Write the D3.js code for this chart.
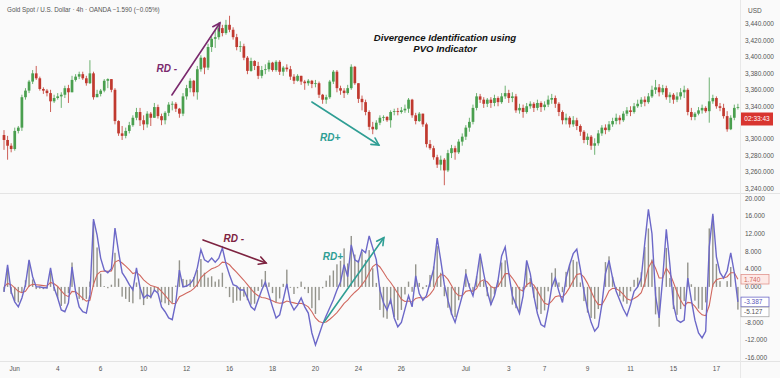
<!DOCTYPE html>
<meta charset="utf-8">
<style>
  body { margin: 0; background: #fafafa; }
  svg text { font-family: "Liberation Sans", Arial, sans-serif; }
</style>
<body>
<script src="https://cdnjs.cloudflare.com/ajax/libs/d3/7.8.5/d3.min.js"></script>
<script>

// XAU/USD 4h candles (Jun 2 - Jul 17), open = previous close
var firstOpen = 3305;
var closes = [
  3299,3292,3288,3310,3314,3351,3359,3370,3380,3374,
  3361,3359,3356,3346,3350,3352,3354,3362,3357,3372,
  3376,3379,3374,3368,3380,3351,3355,3359,3371,3373,
  3360,3322,3307,3304,3310,3317,3326,3333,3323,3318,
  3331,3326,3339,3328,3323,3332,3342,3343,3337,3331,
  3352,3362,3371,3357,3385,3399,3387,3412,3422,3424,
  3435,3429,3439,3433,3424,3412,3413,3399,3383,3395,
  3389,3377,3384,3385,3393,3384,3394,3382,3387,3385,
  3376,3371,3377,3370,3368,3371,3367,3368,3354,3348,
  3351,3370,3382,3362,3359,3356,3362,3388,3368,3349,
  3345,3333,3315,3312,3320,3326,3327,3323,3333,3334,
  3333,3335,3337,3348,3329,3322,3331,3318,3294,3289,
  3278,3269,3275,3262,3283,3289,3284,3297,3303,3314,
  3321,3338,3352,3348,3343,3348,3344,3350,3345,3352,
  3356,3350,3352,3335,3338,3333,3340,3343,3338,3344,
  3339,3342,3348,3350,3343,3333,3323,3326,3318,3323,
  3316,3309,3299,3303,3292,3295,3307,3314,3311,3318,
  3322,3326,3323,3331,3335,3333,3340,3343,3348,3345,
  3352,3360,3363,3357,3362,3351,3354,3348,3352,3357,
  3360,3333,3327,3331,3335,3338,3334,3346,3350,3340,
  3338,3328,3312,3326,3338,3339];
var highs = [
  3311,3304,3295,3314,3316,3354,3362,3372,3384,3389,
  3376,3363,3361,3360,3354,3356,3357,3365,3366,3377,
  3379,3382,3382,3377,3396,3382,3360,3361,3373,3374,
  3373,3362,3323,3316,3314,3321,3329,3338,3338,3329,
  3334,3333,3344,3342,3331,3334,3345,3346,3345,3338,
  3356,3366,3374,3372,3389,3402,3400,3416,3425,3433,
  3442,3439,3445,3450,3436,3428,3419,3416,3401,3399,
  3396,3394,3389,3391,3396,3394,3396,3396,3389,3391,
  3389,3379,3379,3376,3372,3373,3372,3372,3370,3355,
  3354,3372,3384,3384,3365,3362,3366,3391,3389,3362,
  3353,3348,3335,3321,3323,3329,3329,3328,3335,3337,
  3338,3339,3342,3350,3349,3332,3333,3326,3320,3299,
  3292,3281,3280,3277,3287,3293,3292,3300,3307,3317,
  3326,3342,3356,3355,3351,3350,3351,3354,3352,3356,
  3365,3360,3357,3355,3343,3342,3344,3346,3345,3348,
  3346,3346,3353,3355,3353,3345,3335,3331,3328,3328,
  3326,3318,3311,3307,3305,3301,3311,3317,3318,3322,
  3326,3331,3329,3334,3339,3340,3344,3348,3351,3352,
  3356,3365,3372,3367,3366,3365,3357,3356,3357,3362,
  3365,3362,3338,3333,3339,3342,3340,3375,3354,3352,
  3344,3343,3334,3329,3342,3343];
var lows = [
  3287,3275,3284,3286,3307,3310,3348,3356,3367,3372,
  3359,3355,3352,3333,3344,3348,3338,3350,3344,3357,
  3370,3373,3372,3365,3367,3348,3351,3352,3357,3362,
  3357,3318,3304,3299,3301,3307,3315,3323,3316,3311,
  3314,3316,3326,3325,3317,3318,3328,3335,3333,3326,
  3328,3348,3357,3352,3348,3382,3379,3384,3406,3411,
  3421,3425,3427,3430,3421,3408,3406,3396,3379,3382,
  3384,3373,3374,3379,3382,3382,3382,3378,3377,3382,
  3372,3367,3370,3366,3360,3365,3362,3363,3350,3343,
  3343,3349,3367,3357,3354,3350,3354,3360,3366,3344,
  3335,3329,3311,3306,3311,3317,3322,3321,3314,3329,
  3329,3331,3332,3332,3326,3318,3321,3315,3290,3287,
  3275,3265,3262,3244,3260,3277,3275,3282,3292,3299,
  3309,3318,3335,3344,3338,3339,3338,3340,3340,3343,
  3349,3344,3345,3332,3331,3326,3331,3337,3333,3335,
  3333,3335,3339,3343,3338,3328,3318,3318,3314,3315,
  3311,3304,3295,3293,3287,3281,3292,3304,3306,3309,
  3315,3318,3318,3321,3328,3328,3331,3338,3339,3340,
  3343,3350,3355,3352,3354,3348,3344,3343,3345,3348,
  3350,3329,3323,3323,3329,3331,3332,3320,3343,3337,
  3334,3325,3309,3311,3323,3336];

// PVO (percentage volume oscillator) and its signal line
var pvo = [
  -1.1,5.0,-1.1,-3.4,-4.5,-2.5,0.5,6.1,2.3,0.0,
  0.0,-0.2,-0.2,4.3,-0.2,-2.5,-5.2,-5.6,-3.6,4.5,
  -1.1,-4.5,-5.6,-5.9,-1.8,15.3,11.7,6.5,3.8,3.2,
  4.1,13.3,7.9,3.2,2.0,0.5,-0.7,4.3,-0.2,-2.5,
  -1.8,-2.3,-0.7,-1.4,-4.5,-5.6,-7.0,-7.4,-3.4,3.8,
  0.0,0.2,0.7,1.8,4.3,8.4,6.1,5.6,6.5,5.6,
  6.5,8.8,5.2,2.7,0.5,0.2,-0.7,-0.7,-2.5,-4.5,
  -5.2,-2.9,-0.7,1.1,-1.8,-4.5,-7.0,-6.3,-2.9,0.7,
  -3.6,-5.2,-4.1,-2.5,-4.5,-5.9,-10.4,-13.1,-10.8,-8.4,
  -6.5,-4.7,-2.9,-0.7,1.1,5.0,2.3,9.5,6.1,5.6,
  8.4,7.7,11.5,8.8,6.1,-0.7,-3.6,-5.2,-2.9,-7.0,
  -9.0,-8.0,-5.0,-2.0,-4.5,2.5,-1.5,-3.0,-2.0,1.0,
  4.0,11.0,6.0,0.5,-3.0,-6.0,-8.0,-5.0,-2.0,3.0,
  0.0,-2.0,2.0,7.5,3.0,-1.0,-4.0,-2.0,1.5,7.0,
  9.0,3.0,-2.0,-4.0,-6.0,-2.0,6.0,3.0,-2.0,-6.0,
  -8.5,-9.0,-5.0,0.0,2.0,-1.0,-3.5,2.0,5.0,7.5,
  8.5,4.0,-1.0,-5.0,-8.0,-10.0,-9.0,-4.0,3.0,6.0,
  2.0,-1.0,-3.0,-5.0,-6.5,-4.0,-1.0,0.0,2.0,10.0,
  17.5,12.0,-2.0,-7.0,2.0,13.0,5.0,-4.0,-7.5,-8.0,
  -7.5,2.0,-3.0,-7.5,-10.4,-11.5,-10.0,9.0,16.5,6.8,
  3.2,2.0,3.6,7.7,3.2,-3.387];
var signal = [
  0.0,0.8,0.5,-0.2,-1.0,-1.3,-1.0,0.2,0.6,0.5,
  0.4,0.3,0.2,1.0,0.7,0.1,-0.9,-1.8,-2.2,-1.0,
  -1.1,-1.8,-2.6,-3.2,-3.0,0.6,2.8,3.5,3.6,3.5,
  3.6,5.6,6.0,5.4,4.7,3.9,3.0,3.3,2.6,1.6,
  0.9,0.3,0.1,-0.2,-1.0,-1.9,-2.9,-3.8,-3.7,-2.2,
  -1.8,-1.4,-1.0,-0.4,0.5,2.1,2.9,3.5,4.1,4.4,
  4.8,5.6,5.5,5.0,4.1,3.3,2.4,1.5,0.5,-0.5,
  -1.4,-2.0,-2.4,-2.5,-2.8,-3.1,-3.5,-3.7,-3.6,-3.2,
  -3.4,-3.6,-3.8,-3.7,-4.0,-4.5,-5.6,-7.0,-7.8,-8.1,
  -7.9,-7.3,-6.6,-5.8,-4.8,-3.7,-3.0,-2.0,-1.2,-0.5,
  0.5,1.6,3.2,4.6,5.2,4.5,3.3,2.0,1.0,-0.2,
  -1.5,-2.8,-3.3,-3.2,-3.4,-2.6,-2.4,-2.5,-2.4,-1.7,
  -0.6,1.8,2.8,2.6,1.7,0.3,-1.2,-2.0,-2.0,-1.0,
  -0.8,-1.0,-0.4,1.2,1.6,1.1,0.1,-0.3,0.1,1.5,
  3.0,3.0,2.0,0.8,-0.6,-0.9,0.5,1.0,0.4,-0.9,
  -2.4,-3.7,-4.0,-3.2,-2.2,-2.0,-2.3,-1.4,-0.1,1.4,
  2.8,3.0,2.2,0.8,-1.0,-2.8,-4.0,-4.0,-2.6,-0.9,
  -0.3,-0.4,-0.9,-1.7,-2.7,-3.0,-2.6,-2.1,-1.3,1.0,
  4.3,5.8,4.2,2.0,2.0,4.2,3.0,1.0,-1.2,-3.0,
  -4.3,-3.5,-3.6,-4.4,-5.5,-6.3,-6.5,-4.2,0.5,1.6,
  1.9,2.0,2.3,3.2,3.2,1.74];

var dayBars = [3, 15, 27, 39, 51, 63, 75, 87, 99, 111, 129, 141, 151, 163, 175, 187, 199];
var dayLabels = ["Jun", "4", "6", "10", "12", "16", "18", "20", "24", "26", "Jul", "3", "7", "9", "11", "15", "17"];
var priceTicks = [3240, 3260, 3280, 3300, 3320, 3340, 3360, 3380, 3400, 3420, 3440];
var pvoTicks = [-16, -12, -8, -4, 0, 4, 8, 12, 16, 20];
var countdownPrice = 3324.5;

// divergence drawings, anchored in bar / value space
var priceNotes = [
  { label: "RD -", color: "#7b2a6e", from: [46.9, 3353.7], to: [60.3, 3441.2], at: [45.5, 3386.5] },
  { label: "RD+", color: "#2f9e94", from: [86.0, 3345.2], to: [104.7, 3292.9], at: [91.1, 3302.6] }
];
var pvoNotes = [
  { label: "RD -", color: "#7d2340", from: [55.6, 10.6], to: [73.2, 5.4], at: [64.2, 11.0] },
  { label: "RD+", color: "#2f9e94", from: [89.4, -7.9], to: [106.1, 11.1], at: [91.9, 6.8] }
];

var W = 780, H = 378, axisX = 740;

var svg = d3.select("body").append("svg")
  .attr("width", W)
  .attr("height", H);

svg.append("rect").attr("width", W).attr("height", H).attr("fill", "#fafafa");

var x = d3.scaleLinear().domain([0, closes.length - 1]).range([4, 737.9]);
var yP = d3.scaleLinear().domain([3240, 3440]).range([188.5, 24]);
var yV = d3.scaleLinear().domain([-16, 20]).range([357.8, 198.3]);

// frame lines
svg.append("line").attr("x1", 0).attr("x2", W).attr("y1", 193.5).attr("y2", 193.5).attr("stroke", "#e4e4e4");
svg.append("line").attr("x1", 0).attr("x2", W).attr("y1", 361.5).attr("y2", 361.5).attr("stroke", "#e4e4e4");
svg.append("line").attr("x1", axisX + 0.5).attr("x2", axisX + 0.5).attr("y1", 0).attr("y2", H).attr("stroke", "#e8e8e8");

// candles
var bars = closes.map(function (c, i) {
  var o = i ? closes[i - 1] : firstOpen;
  return { i: i, o: o, c: c, h: Math.max(highs[i], o, c), l: Math.min(lows[i], o, c) };
});
var up = "#4a9f4f", down = "#c0392f";

var candle = svg.append("g").selectAll("g").data(bars).enter().append("g");
candle.append("line")
  .attr("x1", function (d) { return x(d.i); })
  .attr("x2", function (d) { return x(d.i); })
  .attr("y1", function (d) { return yP(d.h); })
  .attr("y2", function (d) { return yP(d.l); })
  .attr("stroke", function (d) { return d.c >= d.o ? up : down; })
  .attr("stroke-width", 0.8);
candle.append("rect")
  .attr("x", function (d) { return x(d.i) - 1.35; })
  .attr("width", 2.7)
  .attr("y", function (d) { return yP(Math.max(d.o, d.c)); })
  .attr("height", function (d) { return Math.max(0.8, Math.abs(yP(d.o) - yP(d.c))); })
  .attr("fill", function (d) { return d.c >= d.o ? up : down; });

// PVO histogram, signal and PVO lines
var hist = pvo.map(function (v, i) { return v - signal[i]; });
svg.append("g").selectAll("rect").data(hist).enter().append("rect")
  .attr("x", function (d, i) { return x(i) - 0.7; })
  .attr("width", 1.4)
  .attr("y", function (d) { return Math.min(yV(0), yV(d)); })
  .attr("height", function (d) { return Math.abs(yV(d) - yV(0)); })
  .attr("fill", "#93938b");

var line = function (arr) {
  return d3.line().x(function (d, i) { return x(i); }).y(function (d) { return yV(d); })(arr);
};
svg.append("path").attr("d", line(signal)).attr("fill", "none").attr("stroke", "#d0675e").attr("stroke-width", 1.1);
svg.append("path").attr("d", line(pvo)).attr("fill", "none").attr("stroke", "#6c68c8").attr("stroke-width", 1.4);

// last value tags for the indicator (TradingView hides scale labels under them)
var last = pvo.length - 1;
var tags = [
  { v: signal[last], y: yV(signal[last]), stroke: "#e0958e", fill: "#fde9e6", color: "#d0675e" },
  { v: pvo[last], y: yV(pvo[last]), stroke: "#6c68c8", fill: "#ffffff", color: "#5a56b8" },
  { v: hist[last], y: yV(hist[last]), stroke: "#a8a8a8", fill: "#ffffff", color: "#555" }
];
if (tags[2].y - tags[1].y < 10) tags[2].y = tags[1].y + 10;
var cy = yP(countdownPrice);

function clear(py) {
  if (Math.abs(py - cy) < 9) return false;
  return tags.every(function (t) { return Math.abs(py - t.y) > 6; });
}

// price axis
var fmt = d3.format(",.3f");
svg.append("g").selectAll("text").data(priceTicks.filter(function (d) { return clear(yP(d)); }))
  .enter().append("text")
  .attr("x", 745).attr("y", function (d) { return yP(d) + 2.3; })
  .attr("font-size", "6.5px").attr("fill", "#555")
  .text(function (d) { return fmt(d); });
svg.append("text").attr("x", 748).attr("y", 13).attr("font-size", "6.5px").attr("fill", "#555").text("USD");

svg.append("g").selectAll("text").data(pvoTicks.filter(function (d) { return clear(yV(d)); }))
  .enter().append("text")
  .attr("x", 745).attr("y", function (d) { return yV(d) + 2.3; })
  .attr("font-size", "6.5px").attr("fill", "#555")
  .text(function (d) { return d3.format(".3f")(d).replace("−", "-"); });

// countdown tag
svg.append("rect").attr("x", 741).attr("y", cy - 6.5).attr("width", 32).attr("height", 13).attr("fill", "#d8352f");
svg.append("text").attr("x", 757).attr("y", cy + 2.3).attr("text-anchor", "middle")
  .attr("font-size", "6.5px").attr("fill", "#fff").text("02:33:43");

tags.forEach(function (t) {
  svg.append("rect").attr("x", 741).attr("y", t.y - 4.8).attr("width", 28).attr("height", 9.6)
    .attr("fill", t.fill).attr("stroke", t.stroke).attr("stroke-width", 0.8);
  svg.append("text").attr("x", 744).attr("y", t.y + 2.3).attr("font-size", "6.5px").attr("fill", t.color)
    .text(d3.format(".3f")(t.v).replace("−", "-"));
});

// time axis
svg.append("g").selectAll("text").data(dayBars).enter().append("text")
  .attr("x", function (d) { return x(d); }).attr("y", 370.5)
  .attr("text-anchor", "middle").attr("font-size", "6.5px").attr("fill", "#555")
  .text(function (d, i) { return dayLabels[i]; });

// header
svg.append("text").attr("x", 7).attr("y", 12).attr("font-size", "6.3px").attr("fill", "#555")
  .text("Gold Spot / U.S. Dollar \u00b7 4h \u00b7 OANDA   \u22121.590 (\u22120.05%)");

svg.append("text").attr("x", 445).attr("y", 41).attr("text-anchor", "middle")
  .attr("font-size", "9.6px").attr("font-weight", "bold").attr("font-style", "italic").attr("fill", "#111")
  .text("Divergence Identification using");
svg.append("text").attr("x", 445).attr("y", 52).attr("text-anchor", "middle")
  .attr("font-size", "9.6px").attr("font-weight", "bold").attr("font-style", "italic").attr("fill", "#111")
  .text("PVO Indicator");

// arrows with open heads
function arrow(note, yScale) {
  var x1 = x(note.from[0]), y1 = yScale(note.from[1]);
  var x2 = x(note.to[0]), y2 = yScale(note.to[1]);
  var a = Math.atan2(y2 - y1, x2 - x1), len = 8, spread = 0.5;
  var g = svg.append("g").attr("stroke", note.color).attr("stroke-width", 1.6)
    .attr("fill", "none").attr("stroke-linecap", "round");
  g.append("line").attr("x1", x1).attr("y1", y1).attr("x2", x2).attr("y2", y2);
  g.append("path").attr("d",
    "M" + (x2 - len * Math.cos(a - spread)) + "," + (y2 - len * Math.sin(a - spread)) +
    "L" + x2 + "," + y2 +
    "L" + (x2 - len * Math.cos(a + spread)) + "," + (y2 - len * Math.sin(a + spread)));
  svg.append("text").attr("x", x(note.at[0])).attr("y", yScale(note.at[1]) + 3.5)
    .attr("text-anchor", "middle").attr("font-size", "10px").attr("font-weight", "bold")
    .attr("font-style", "italic").attr("fill", note.color).text(note.label);
}
priceNotes.forEach(function (n) { arrow(n, yP); });
pvoNotes.forEach(function (n) { arrow(n, yV); });

</script>
</body>
